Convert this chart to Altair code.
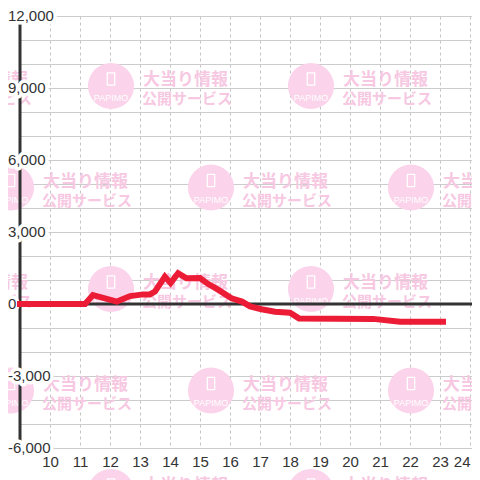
import altair as alt
import pandas as pd

# ---- data ----
hours = [9.0, 11.17, 11.43, 12.23, 12.67, 13.1, 13.33, 13.5, 13.83, 14.02, 14.27,
         14.55, 15.0, 15.25, 15.6, 16.05, 16.4, 16.67, 17.05, 17.5, 18.0, 18.3,
         20.77, 21.67, 23.1]
diff = [0, 0, 370, 100, 330, 400, 400, 520, 1140, 870, 1280,
        1070, 1080, 850, 600, 240, 100, -100, -220, -320, -360, -600,
        -620, -735, -735]

y_ticks = [-6000, -3000, 0, 3000, 6000, 9000, 12000]
y_labels = ["-6,000", "-3,000", "0", "3,000", "6,000", "9,000", "12,000"]
y_grid = list(range(-6000, 12001, 1000))
x_ticks = list(range(10, 25))

W = 452
X0, X1 = 9, 9 + W / 30
xs = alt.Scale(domain=[X0, X1], nice=False, zero=False)
ys = alt.Scale(domain=[-6000, 12000], nice=False, zero=False)

FONT = "Liberation Sans"
JP = "Noto Sans CJK JP"

x_axis = alt.Axis(
    values=x_ticks, grid=True, gridColor="#c4c4c4", gridDash=[3, 3],
    gridWidth=1, domain=False, ticks=False, title=None,
    labelFontSize=15, labelFont=FONT, labelColor="#333333",
    labelPadding=6, labelOverlap=False, labelFlush=False,
    labelAlign={"condition": {"test": "datum.value >= 24", "value": "right"},
                "value": "center"})
y_axis = alt.Axis(
    values=y_grid, grid=True, gridColor="#cccccc", gridWidth=1,
    domain=False, ticks=False, labels=False, title=None)

line_df = pd.DataFrame({"h": hours, "v": diff})
lab_df = pd.DataFrame({"v": y_ticks, "t": y_labels})
vrule_df = pd.DataFrame({"h": [X0]})
hrule_df = pd.DataFrame({"v": [0]})

# ---- watermark tiles (repeating decorative pattern) ----
tiles = []
for r in range(-1, 5):
    cy = 86 + 101.5 * r
    for c in range(-2, 4):
        cx = 111 + 100 * r + 200 * c
        if -140 <= cx <= 500:
            tiles.append({"h": 9 + (cx - 20) / 30, "v": (304 - cy) / 24 * 1000})
wm_df = pd.DataFrame(tiles)

wm_base = alt.Chart(wm_df).encode(
    x=alt.X("h:Q", scale=xs, axis=x_axis),
    y=alt.Y("v:Q", scale=ys, axis=y_axis),
)
wm_circle = wm_base.mark_circle(size=2124, color="#fbd3ea", opacity=1, clip=False)
wm_phone = wm_base.mark_point(
    shape="M-0.6,-1H0.6V1H-0.6Z", size=150, filled=False, stroke="white",
    strokeWidth=1.3, opacity=1, yOffset=-7, clip=False)
wm_papimo = wm_base.mark_text(
    text="PAPIMO", color="white", fontSize=9, font=FONT, dy=12, clip=False)
wm_t1 = wm_base.mark_text(
    text="大当り情報", color="#f7c8e2", fontSize=17, fontWeight="bold", font=JP,
    align="left", baseline="middle", dx=32, dy=-6, clip=False)
wm_t2 = wm_base.mark_text(
    text="公開サービス", color="#f7c8e2", fontSize=15, fontWeight="bold", font=JP,
    align="left", baseline="middle", dx=31, dy=13, clip=False)

y_axis_line = alt.Chart(vrule_df).mark_rule(color="#333333", strokeWidth=3).encode(
    x=alt.X("h:Q", scale=xs, axis=x_axis))
zero_line = alt.Chart(hrule_df).mark_rule(color="#333333", strokeWidth=3).encode(
    y=alt.Y("v:Q", scale=ys, axis=y_axis))

lab_base = alt.Chart(lab_df).encode(
    x=alt.value(-12),
    y=alt.Y("v:Q", scale=ys, axis=y_axis),
    text="t:N",
)
lab_halo = lab_base.mark_text(
    align="left", baseline="middle", fontSize=15, font=FONT,
    fill="white", stroke="white", strokeWidth=7, strokeJoin="round", clip=False)
lab_text = lab_base.mark_text(
    align="left", baseline="middle", fontSize=15, font=FONT,
    color="#333333", clip=False)

# ---- the data line ----
line = alt.Chart(line_df).mark_line(
    color="#ec1c36", strokeWidth=6, strokeCap="square", strokeJoin="miter"
).encode(
    x=alt.X("h:Q", scale=xs, axis=x_axis),
    y=alt.Y("v:Q", scale=ys, axis=y_axis),
)

chart = alt.layer(
    wm_circle, wm_phone, wm_papimo, wm_t1, wm_t2,
    y_axis_line, zero_line, lab_halo, lab_text, line,
).properties(
    width=W, height=432,
    autosize=alt.AutoSizeParams(type="none"),
    padding={"left": 12, "top": 8, "right": 0, "bottom": 32},
).configure_view(stroke=None)

chart.save("out.html", embed_options={"renderer": "svg", "actions": False})
